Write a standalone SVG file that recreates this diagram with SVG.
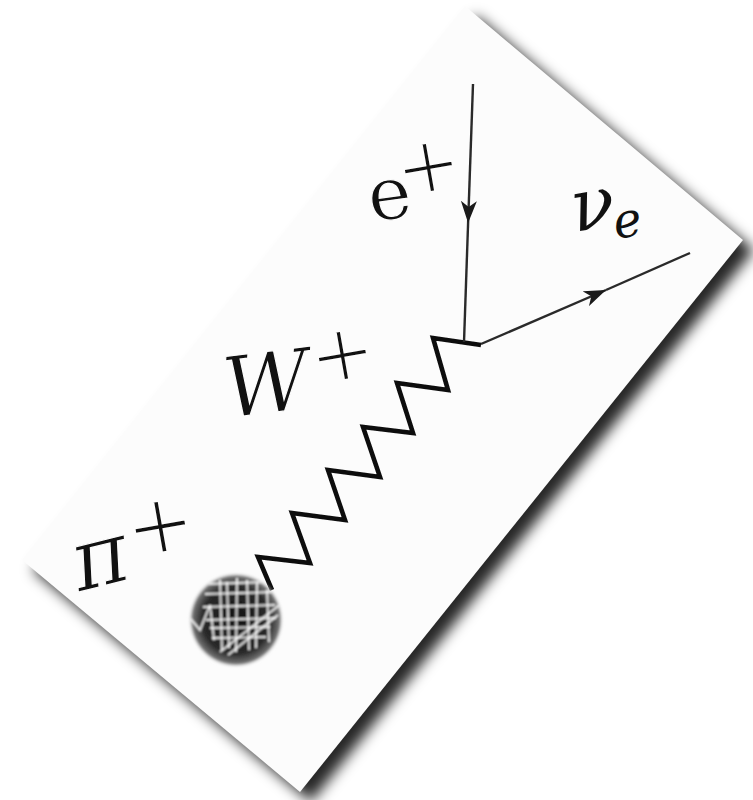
<svg xmlns="http://www.w3.org/2000/svg" width="753" height="800" viewBox="0 0 753 800">
  <style>
    text { font-family: "DejaVu Serif", serif; fill: #111; }
    .it { font-style: italic; }
    .thin { stroke: #fcfcfc; stroke-width: 1.2; }
    .plus { stroke: #fcfcfc; stroke-width: 3; text-anchor: middle; dominant-baseline: central; }
    .fermion { fill: none; stroke: #2a2a2a; stroke-width: 2.4; }
    .boson { fill: none; stroke: #111; stroke-width: 4.6; stroke-linejoin: miter; }
    .scribble { fill: none; stroke: #fff; stroke-width: 2; stroke-opacity: 0.85; }
  </style>
  <defs>
    <filter id="shadow" x="-20%" y="-20%" width="140%" height="140%">
      <feGaussianBlur stdDeviation="7"/>
    </filter>
    <filter id="soft" x="-20%" y="-20%" width="140%" height="140%">
      <feGaussianBlur stdDeviation="0.9"/>
    </filter>
    <filter id="softline" x="-10%" y="-10%" width="120%" height="120%">
      <feGaussianBlur stdDeviation="0.6"/>
    </filter>
    <radialGradient id="blobGrad" cx="0.5" cy="0.5" r="0.5">
      <stop offset="0" stop-color="#111"/>
      <stop offset="0.7" stop-color="#2a2a2a"/>
      <stop offset="0.9" stop-color="#707070"/>
      <stop offset="1" stop-color="#fff" stop-opacity="0"/>
    </radialGradient>
    <clipPath id="blobClip">
      <circle cx="236" cy="620" r="45"/>
    </clipPath>
    <marker id="arrow" viewBox="0 0 22 16" refX="22" refY="8" markerWidth="22" markerHeight="16" markerUnits="userSpaceOnUse" orient="auto">
      <path d="M0,0 L22,8 L0,16 L6,8 Z" fill="#1a1a1a"/>
    </marker>
  </defs>

  <rect width="753" height="800" fill="#ffffff"/>

  <g id="card">
    <polygon points="476,16 754,250 311,802 33,570" fill="#000" fill-opacity="0.85" filter="url(#shadow)"/>
    <polygon points="465,6 743,240 300,792 22,560" fill="#fcfcfc"/>
  </g>

  <g id="connectors">
    <path id="w-boson" class="boson" filter="url(#softline)" d="M272,590 L258,557 L310,563 L292,513 L345,520 L328,470 L380,477 L363,427 L413,433 L397,383 L448,390 L433,338 L481,345"/>
    <path id="positron-line" class="fermion" d="M473,84 L468.1,223" marker-end="url(#arrow)"/>
    <path class="fermion" d="M468.1,223 L464,342"/>
    <path id="neutrino-line" class="fermion" d="M481,344 L606,290" marker-end="url(#arrow)"/>
    <path class="fermion" d="M606,290 L690,253"/>
  </g>

  <g id="pion-blob" filter="url(#soft)">
    <circle cx="236" cy="620" r="48" fill="url(#blobGrad)"/>
    <g clip-path="url(#blobClip)">
      <path class="scribble" d="M220,580 L222,650 M227,582 L229,648 M237,578 L236,652 M247,580 L249,650 M257,583 L256,648 M267,590 L269,642"/>
      <path class="scribble" d="M207,584 L270,582 M205,594 L272,592 M203,607 L275,605 M206,620 L276,618 M210,628 L270,627 M212,638 L266,637"/>
      <path class="scribble" d="M190,618 L200,630 L210,605 L214,640 M220,652 L282,603 M228,655 L278,615"/>
    </g>
  </g>

  <g id="label-pi">
    <text class="it thin" x="79" y="592" font-size="86" transform="rotate(-14 79 592)">π</text>
    <text class="plus" x="160" y="524" font-size="84" transform="rotate(-10 160 524)">+</text>
  </g>

  <g id="label-w">
    <text class="it thin" x="227" y="418" font-size="84" transform="rotate(-7 227 418)">W</text>
    <text class="plus" x="342" y="353" font-size="80" transform="rotate(-10 342 353)">+</text>
  </g>

  <g id="label-e">
    <text class="thin" x="371" y="222" font-size="74" transform="rotate(-8 371 222)">e</text>
    <text class="plus" x="428" y="165" font-size="80" transform="rotate(-10 428 165)">+</text>
  </g>

  <g id="label-nu">
    <text class="it" x="575" y="232" font-size="72" transform="rotate(-10 575 232)">ν</text>
    <text class="it" x="616" y="239" font-size="48" transform="rotate(-10 616 239)">e</text>
  </g>
</svg>
